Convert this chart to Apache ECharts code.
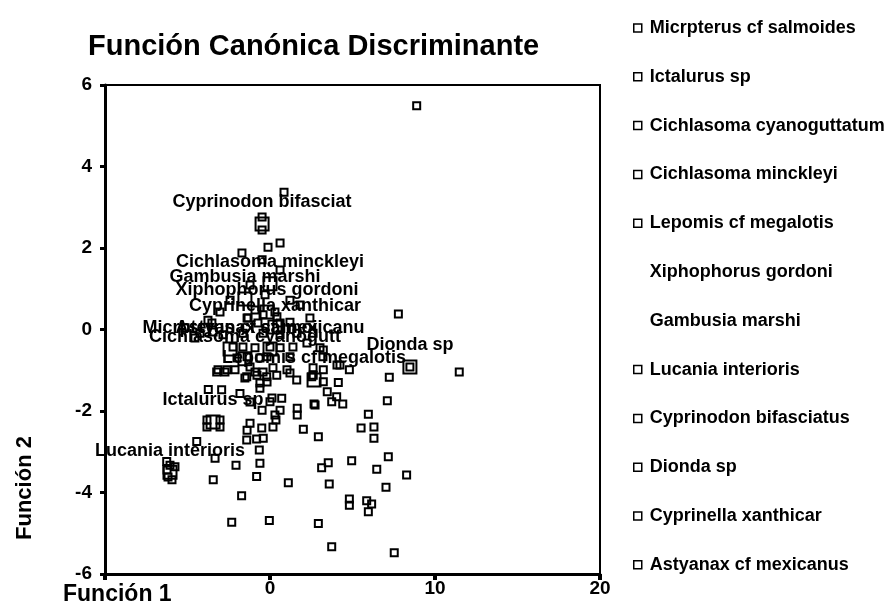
<!DOCTYPE html>
<html>
<head>
<meta charset="utf-8">
<script src="https://cdn.jsdelivr.net/npm/echarts@6/dist/echarts.min.js"></script>
<style>html,body{margin:0;padding:0;background:#fff;}#c{width:893px;height:610px;}</style>
</head>
<body>
<div id="c"></div>
<script>
const speciesNames = ['Micrpterus cf salmoides','Ictalurus sp','Cichlasoma cyanoguttatum','Cichlasoma minckleyi','Lepomis cf megalotis','Xiphophorus gordoni','Gambusia marshi','Lucania interioris','Cyprinodon bifasciatus','Dionda sp','Cyprinella xanthicar','Astyanax cf mexicanus'];
const centroidLabels = ['Micrpterus cf salmoi','Ictalurus sp','Cichlasoma cyanogutt','Cichlasoma minckleyi','Lepomis cf megalotis','Xiphophorus gordoni','Gambusia marshi','Lucania interioris','Cyprinodon bifasciat','Dionda sp','Cyprinella xanthicar','Astyanax cf mexicanu'];
const centroidX = [-2.42,-3.45,-1.52,0.00,2.67,-0.18,-1.52,-6.06,-0.48,8.48,0.30,0.00];
const centroidY = [-0.48,-2.27,-0.72,1.12,-1.24,0.43,0.75,-3.50,2.59,-0.92,0.06,-0.48];
const noMarkerInLegend = ['Xiphophorus gordoni','Gambusia marshi'];

const ptsMicrpterus = [[-3.52,0.16],[-4.24,-0.09],[-3.45,-0.06],[-5.15,0.04],[-4.55,-0.21],[-2.85,-0.13],[-3.15,-0.99],[-2.61,-0.99],[-2.24,-0.43]];
const ptsIctalurus = [[-3.74,-1.47],[-2.93,-1.48],[-1.82,-1.57],[-3.82,-2.22],[-3.03,-2.22],[-3.82,-2.39],[-3.03,-2.39],[-4.44,-2.75],[-3.33,-3.16],[-3.44,-3.69],[-2.06,-3.33],[-2.32,-4.73],[-1.72,-4.08],[-1.21,-1.78]];
const ptsCyano = [[-1.64,-0.09],[-2.00,-0.70],[-1.39,-0.67],[-2.12,-0.99],[-3.23,-1.04],[-2.73,-1.04],[-1.64,-0.43],[-1.21,-0.92]];
const ptsMinckleyi = [[-0.48,1.71],[0.61,1.46],[-1.21,1.09],[1.82,0.60],[1.21,0.72]];
const ptsLepomis = [[1.21,-0.67],[1.39,-0.43],[1.64,-0.09],[2.24,-0.33],[2.61,-0.09],[3.03,-0.45],[3.21,-0.67],[1.03,-0.99],[2.61,-0.94],[4.06,-0.87],[1.21,-1.07],[1.62,-1.24],[2.53,-1.16],[3.23,-0.99],[3.23,-1.28],[2.62,-1.12],[4.14,-1.30],[4.24,-0.87],[4.81,-0.99],[3.23,-0.50],[3.47,-1.53],[4.04,-1.65],[3.74,-1.77],[4.41,-1.83],[2.67,-1.83]];
const ptsXiphophorus = [[-0.91,0.48],[0.30,0.43],[-1.33,0.28],[-0.42,0.36]];
const ptsGambusia = [[-2.42,0.72],[-3.03,0.43],[-0.30,0.85],[-3.76,0.23]];
const ptsLucania = [[-6.06,-3.33],[-5.76,-3.37],[-6.24,-3.45],[-6.18,-3.62],[-5.94,-3.69],[-6.26,-3.24]];
const ptsCyprinodon = [[0.85,3.37],[-0.48,2.76],[-0.48,2.44],[-0.12,2.02],[0.61,2.12],[-1.70,1.88]];
const ptsDionda = [[8.89,5.49],[11.47,-1.04],[7.23,-1.17],[7.11,-1.75],[5.96,-2.08],[5.52,-2.42],[6.30,-2.39],[6.30,-2.67],[7.17,-3.12],[8.28,-3.57],[6.47,-3.43],[4.95,-3.22],[7.03,-3.87],[4.81,-4.16],[4.81,-4.31],[5.86,-4.20],[6.16,-4.28],[5.96,-4.47],[7.53,-5.48],[8.48,-0.92]];
const ptsCyprinella = [[0.42,0.31],[2.42,0.28],[7.78,0.38],[-1.39,0.28],[1.21,0.18],[0.61,0.16]];
const ptsAstyanax = [[-0.91,-0.45],[0.00,-0.43],[-0.42,-0.09],[-0.73,0.16],[-0.61,-0.70],[-0.18,-0.67],[-0.42,-1.04],[0.18,-0.94],[-1.41,-1.16],[-0.91,-1.04],[-0.20,-1.16],[0.41,-1.12],[0.61,-0.45],[0.61,-0.13],[-1.21,-2.30],[-0.50,-2.42],[1.65,-1.93],[1.65,-2.10],[2.73,-1.85],[2.02,-2.45],[2.93,-2.63],[-1.41,-2.71],[-0.81,-2.69],[-0.41,-2.67],[-0.65,-2.96],[-0.61,-3.28],[-0.81,-3.61],[1.11,-3.76],[-0.04,-4.69],[2.93,-4.76],[3.53,-3.27],[3.13,-3.39],[3.59,-3.79],[3.74,-5.33],[-1.52,-1.19],[-0.79,-1.12],[-0.61,-1.31],[-0.48,-1.98],[0.12,-1.68],[0.30,-2.10],[-1.39,-2.47],[0.18,-2.39],[0.61,-1.98],[0.71,-1.69],[0.36,-2.22],[0.00,-1.77],[-0.61,-1.44],[-0.18,-1.29]];

const groupPoints = [ptsMicrpterus, ptsIctalurus, ptsCyano, ptsMinckleyi, ptsLepomis, ptsXiphophorus, ptsGambusia, ptsLucania, ptsCyprinodon, ptsDionda, ptsCyprinella, ptsAstyanax];

const xTicks = [-10, 0, 10, 20];
const yTicks = [-6, -4, -2, 0, 2, 4, 6];

const FONT = '"Liberation Sans", Arial, Helvetica, sans-serif';
const chart = echarts.init(document.getElementById('c'), null, {renderer: 'canvas'});

const pointSeries = speciesNames.map((name, i) => ({
  name: name,
  type: 'scatter',
  data: groupPoints[i],
  symbol: 'rect',
  symbolSize: 7,
  itemStyle: {color: 'rgba(0,0,0,0)', borderColor: '#000', borderWidth: 2, opacity: 1},
  emphasis: {disabled: true},
  z: 2
}));

const centroidSeries = {
  name: 'Centroides',
  type: 'scatter',
  data: centroidX.map((x, i) => ({value: [x, centroidY[i]], name: centroidLabels[i]})),
  symbol: 'rect',
  symbolSize: 13,
  itemStyle: {color: 'rgba(0,0,0,0)', borderColor: '#000', borderWidth: 2, opacity: 1},
  label: {
    show: true,
    position: 'top',
    distance: 5,
    formatter: p => p.name,
    color: '#000',
    opacity: 1,
    fontFamily: FONT,
    fontSize: 18,
    fontWeight: 'bold'
  },
  labelLayout: {hideOverlap: false},
  emphasis: {disabled: true},
  z: 3
};

chart.setOption({
  backgroundColor: '#fff',
  animation: false,
  title: {
    text: 'Función Canónica Discriminante',
    left: 83,
    top: 27,
    textStyle: {fontFamily: FONT, fontSize: 29, fontWeight: 'bold', color: '#000'}
  },
  legend: {
    orient: 'vertical',
    left: 628,
    top: 13,
    itemWidth: 8,
    itemHeight: 8,
    itemGap: 28.8,
    selectedMode: false,
    data: speciesNames.map(n => ({name: n, icon: noMarkerInLegend.includes(n) ? 'none' : 'rect'})),
    itemStyle: {color: 'rgba(0,0,0,0)', borderColor: '#000', borderWidth: 1.5, opacity: 1},
    textStyle: {fontFamily: FONT, fontSize: 18, fontWeight: 'bold', color: '#000', lineHeight: 20, padding: [0, 0, 0, 3]}
  },
  grid: {
    left: 105, right: 293, top: 85, bottom: 36,
    show: true, borderColor: '#000', borderWidth: 2, backgroundColor: 'rgba(0,0,0,0)'
  },
  xAxis: {
    type: 'value',
    min: xTicks[0], max: xTicks[xTicks.length - 1], interval: 10,
    axisLine: {show: true, onZero: false, lineStyle: {color: '#000', width: 3}},
    axisTick: {show: true, length: 6, lineStyle: {color: '#000', width: 4}},
    splitLine: {show: false},
    axisLabel: {
      margin: 5,
      color: '#000', fontFamily: FONT, fontSize: 19, fontWeight: 'bold',
      formatter: v => (v === xTicks[0] ? '' : String(v))
    }
  },
  yAxis: {
    type: 'value',
    min: yTicks[0], max: yTicks[yTicks.length - 1], interval: 2,
    axisLine: {show: true, onZero: false, lineStyle: {color: '#000', width: 3}},
    axisTick: {show: true, length: 5, lineStyle: {color: '#000', width: 3}},
    splitLine: {show: false},
    axisLabel: {margin: 13, color: '#000', fontFamily: FONT, fontSize: 19, fontWeight: 'bold'}
  },
  graphic: [
    {
      type: 'text', left: 63, top: 583,
      style: {text: 'Función 1', font: 'bold 23px ' + FONT, fill: '#000'}
    },
    {
      type: 'text', x: 25, y: 488, rotation: Math.PI / 2,
      style: {text: 'Función 2', font: 'bold 22px ' + FONT, fill: '#000',
              align: 'center', verticalAlign: 'middle', textAlign: 'center', textVerticalAlign: 'middle'}
    }
  ],
  series: pointSeries.concat([centroidSeries])
});
</script>
</body>
</html>
